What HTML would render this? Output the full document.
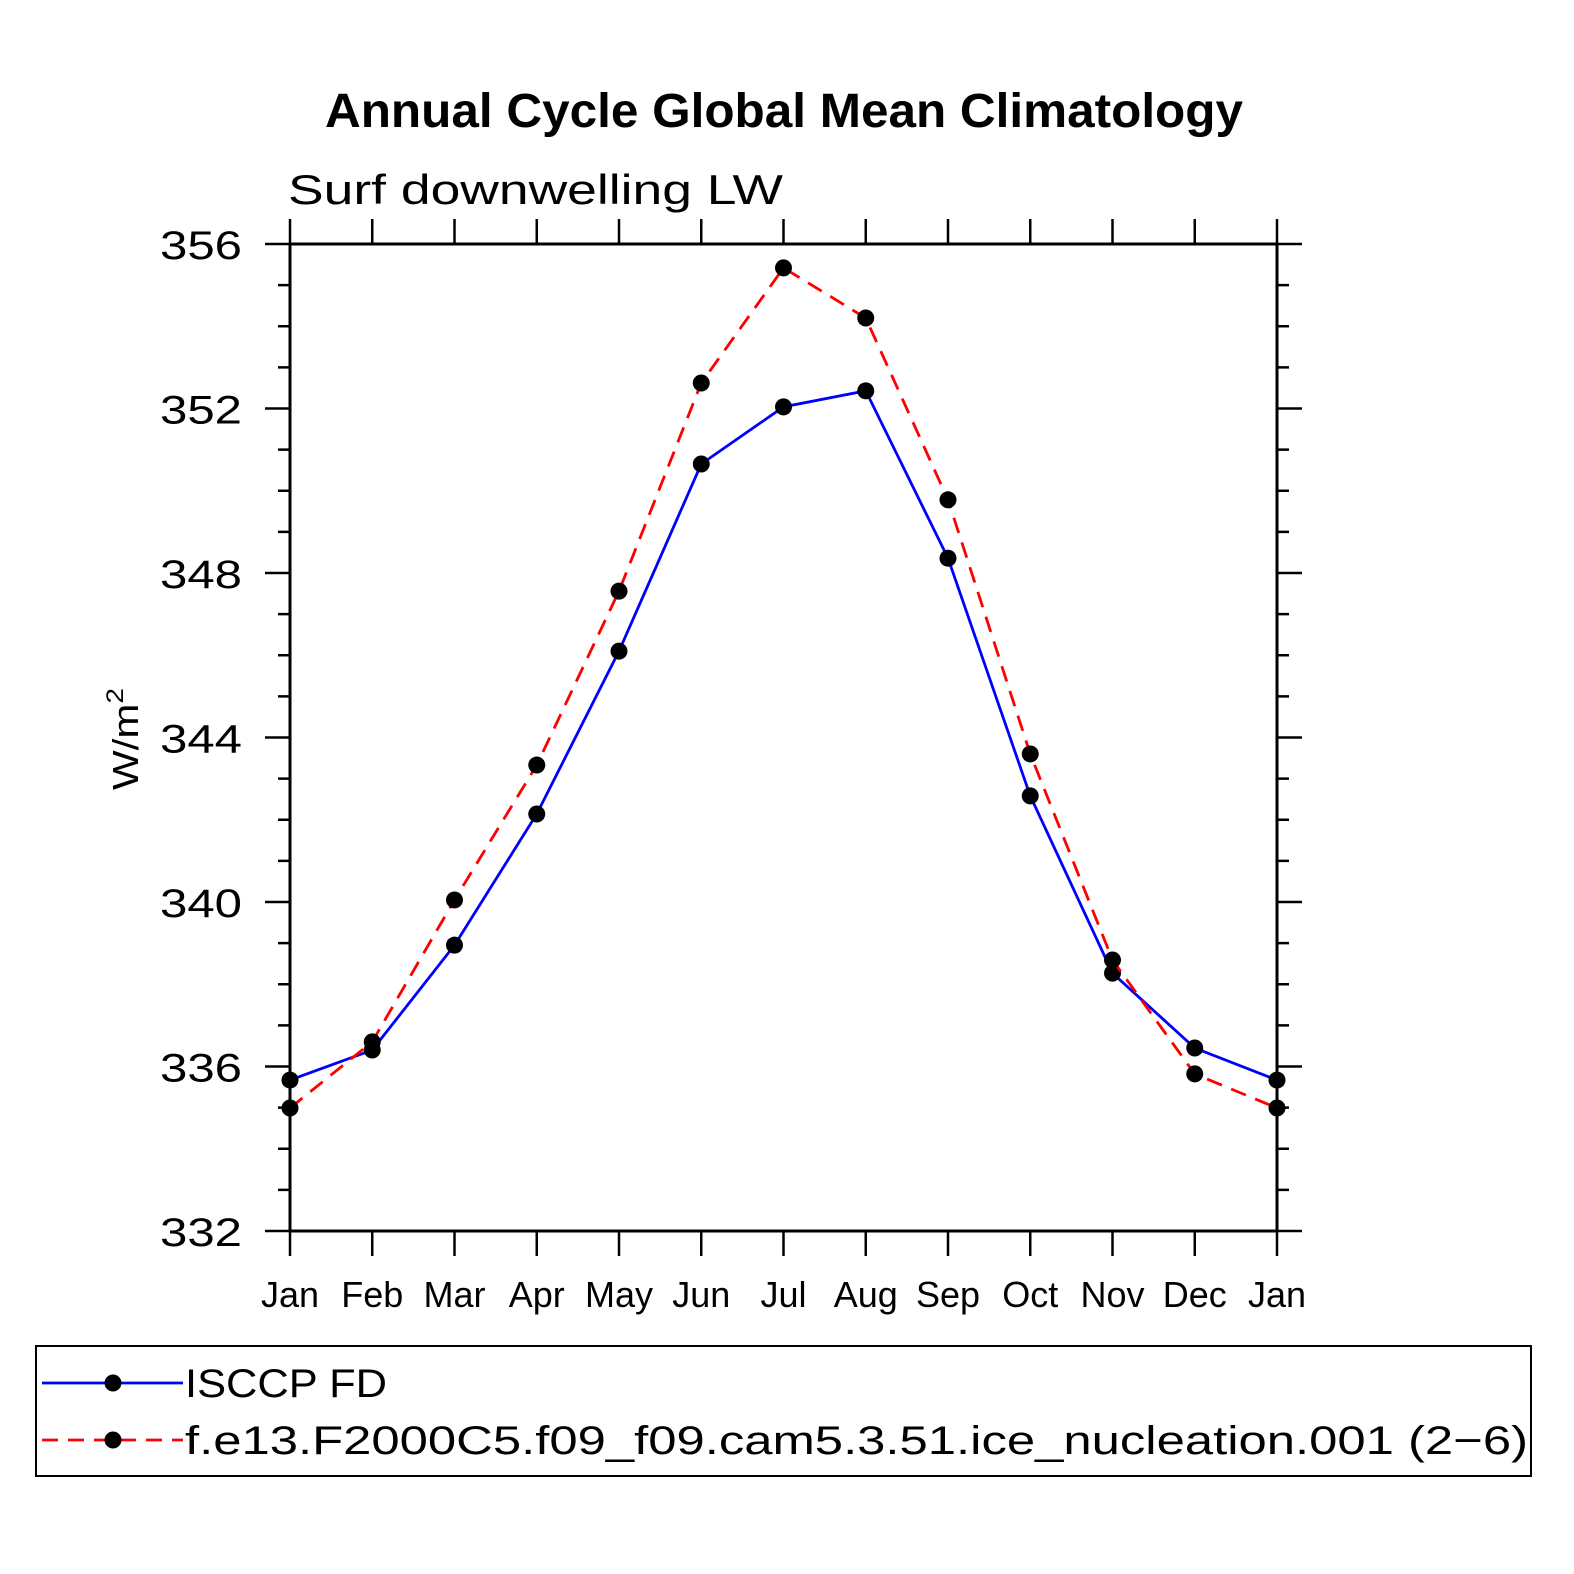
<!DOCTYPE html>
<html><head><meta charset="utf-8"><style>
html,body{margin:0;padding:0;background:#fff;}
svg{display:block;}
text{font-family:"Liberation Sans",sans-serif;}
</style></head><body>
<svg id="chart" width="1574" height="1574" viewBox="0 0 1574 1574" xmlns="http://www.w3.org/2000/svg">
<text x="325" y="127" font-size="48" font-weight="bold" textLength="918" lengthAdjust="spacingAndGlyphs">Annual Cycle Global Mean Climatology</text>
<text x="288" y="204" font-size="42" textLength="495" lengthAdjust="spacingAndGlyphs">Surf downwelling LW</text>
<text transform="translate(138,790) rotate(-90)" font-size="36" textLength="102" lengthAdjust="spacingAndGlyphs">W/m<tspan dy="-15" font-size="24">2</tspan></text>
<g id="axes"></g>
<g id="series"></g>
<g>
<rect x="36" y="1346" width="1495" height="130" fill="none" stroke="#000" stroke-width="2"/>
<line x1="42" y1="1383" x2="183" y2="1383" stroke="#0000ff" stroke-width="2.8"/>
<circle cx="113" cy="1383" r="8.5" fill="#000"/>
<text x="185" y="1397" font-size="40" textLength="202" lengthAdjust="spacingAndGlyphs">ISCCP FD</text>
<line x1="42" y1="1440" x2="183" y2="1440" stroke="#ff0000" stroke-width="2.8" stroke-dasharray="16,10"/>
<circle cx="113" cy="1440" r="8.5" fill="#000"/>
<text x="185" y="1454" font-size="40" textLength="1343" lengthAdjust="spacingAndGlyphs">f.e13.F2000C5.f09_f09.cam5.3.51.ice_nucleation.001 (2−6)</text>
</g>
</svg>
<script>
const months = ["Jan","Feb","Mar","Apr","May","Jun","Jul","Aug","Sep","Oct","Nov","Dec","Jan"];
const isccp = [335.67,336.4,338.95,342.14,346.1,350.65,352.04,352.43,348.36,342.58,338.27,336.45,335.67];
const model = [334.99,336.6,340.05,343.33,347.56,352.62,355.42,354.2,349.78,343.6,338.59,335.82,334.99];
const yTicks = [332,336,340,344,348,352,356];

const NS="http://www.w3.org/2000/svg";
const X0=290,X1=1277,Y0=1231,Y1=244,YMIN=332,YMAX=356;
const xs=i=>X0+(X1-X0)*i/(months.length-1);
const ys=v=>Y0-(Y0-Y1)*(v-YMIN)/(YMAX-YMIN);
function mk(tag,attrs,parent){const e=document.createElementNS(NS,tag);for(const k in attrs)e.setAttribute(k,attrs[k]);parent.appendChild(e);return e;}
const axes=document.getElementById('axes');
const frame=mk('rect',{x:X0,y:Y1,width:X1-X0,height:Y0-Y1,fill:'none',stroke:'#000','stroke-width':3},axes);


for(let v=YMIN;v<=YMAX;v++){
  const major=yTicks.includes(v);const L=major?25:12;const y=ys(v);
  mk('line',{x1:X0-L,y1:y,x2:X0,y2:y,stroke:'#000','stroke-width':2.5},axes);
  mk('line',{x1:X1,y1:y,x2:X1+L,y2:y,stroke:'#000','stroke-width':2.5},axes);
}
yTicks.forEach(v=>{
  const t=mk('text',{x:160,y:ys(v)+15,'font-size':40,textLength:82,lengthAdjust:'spacingAndGlyphs'},axes);
  t.textContent=v;
  
  
});
months.forEach((m,i)=>{
  const x=xs(i);
  mk('line',{x1:x,y1:Y1-25,x2:x,y2:Y1,stroke:'#000','stroke-width':2.5},axes);
  mk('line',{x1:x,y1:Y0,x2:x,y2:Y0+25,stroke:'#000','stroke-width':2.5},axes);
  const t=mk('text',{x:x,y:1307,'text-anchor':'middle','font-size':36},axes);
  t.textContent=m;
  
  
});
const series=document.getElementById('series');
function draw(vals,color,dash,name){
  const p=mk('polyline',{points:vals.map((v,i)=>xs(i)+','+ys(v)).join(' '),fill:'none',stroke:color,'stroke-width':2.8},series);
  if(dash)p.setAttribute('stroke-dasharray',dash);
  
  
  vals.forEach((v,i)=>{
    const c=mk('circle',{cx:xs(i),cy:ys(v),r:8.5,fill:'#000'},series);
    
    
  });
}
draw(isccp,'#0000ff',null,'isccp');
draw(model,'#ff0000','16,10','model');
</script>
</body></html>
